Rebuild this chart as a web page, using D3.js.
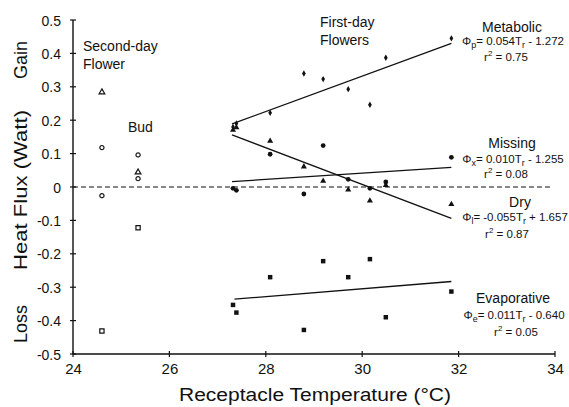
<!DOCTYPE html>
<html>
<head>
<meta charset="utf-8">
<script src="https://cdn.jsdelivr.net/npm/d3@7/dist/d3.min.js"></script>
<style>
  html, body { margin: 0; padding: 0; background: #fff; }
  svg { display: block; }
  text { font-family: "Liberation Sans", Arial, Helvetica, sans-serif; fill: #111; }
</style>
</head>
<body>
<svg id="chart" width="569" height="407"></svg>
<script>
// ---------- data ----------
const xTicks = [24, 26, 28, 30, 32, 34];
const yTicks = [0.5, 0.4, 0.3, 0.2, 0.1, 0, -0.1, -0.2, -0.3, -0.4, -0.5];
const yTickLabels = ["0.5", "0.4", "0.3", "0.2", "0.1", "0", "-0.1", "-0.2", "-0.3", "-0.4", "-0.5"];

// First-day flowers (receptacle temperature, °C)
const firstDayT   = [27.32, 27.39, 28.09, 28.79, 29.19, 29.71, 30.16, 30.49, 31.85];
const metabolic   = [0.180, 0.190, 0.222, 0.340, 0.323, 0.293, 0.246, 0.387, 0.445];
const missing     = [-0.004, -0.010, 0.098, -0.021, 0.124, 0.023, -0.004, 0.015, 0.089];
const dry         = [0.171, 0.178, 0.138, 0.061, 0.018, -0.008, -0.041, 0.005, -0.052];
const evaporative = [-0.353, -0.376, -0.270, -0.428, -0.222, -0.270, -0.216, -0.390, -0.313];

// Second-day flower and bud (open symbols)
const secondDayT = 24.6;
const secondDay = [
  { shape: "triangle", v: 0.284 },
  { shape: "circle", v: 0.118 },
  { shape: "circle", v: -0.026 },
  { shape: "square", v: -0.431 }
];
const budT = 25.35;
const bud = [
  { shape: "circle", v: 0.096 },
  { shape: "triangle", v: 0.044 },
  { shape: "circle", v: 0.025 },
  { shape: "square", v: -0.122 }
];

// Regression lines (endpoints)
const metabolicLine   = [[27.3, 0.189], [31.85, 0.430]];
const missingLine     = [[27.3, 0.016], [31.85, 0.059]];
const dryLine         = [[27.3, 0.156], [31.85, -0.094]];
const evaporativeLine = [[27.35, -0.336], [31.85, -0.283]];

// ---------- layout ----------
const svg = d3.select("#chart");
const mLeft = 73, mRight = 555, mTop = 20, mBottom = 354;
const x = d3.scaleLinear().domain([24, 34]).range([mLeft, mRight]);
const y = d3.scaleLinear().domain([-0.5, 0.5]).range([mBottom, mTop]);

// zero dashed line
svg.append("line")
  .attr("x1", x(24)).attr("x2", x(33.95))
  .attr("y1", y(0)).attr("y2", y(0))
  .attr("stroke", "#111").attr("stroke-width", 1.1)
  .attr("stroke-dasharray", "5,3");

// axes
const yAxis = svg.append("g").attr("transform", `translate(${mLeft},0)`)
  .call(d3.axisLeft(y).tickValues(yTicks).tickSize(0).tickFormat((d, i) => yTickLabels[i]));
yAxis.select(".domain").remove();
yAxis.selectAll("text").attr("x", -12).attr("dy", "0.36em")
  .style("font-size", "14px").style("font-family", "Liberation Sans, Arial, sans-serif").attr("fill", "#111");

const xAxis = svg.append("g").attr("transform", `translate(0,${mBottom})`)
  .call(d3.axisBottom(x).tickValues(xTicks).tickSize(0).tickFormat(d3.format("d")));
xAxis.select(".domain").remove();
xAxis.selectAll("text").attr("y", 9).attr("dy", "0.71em")
  .style("font-size", "15px").style("font-family", "Liberation Sans, Arial, sans-serif").attr("fill", "#111");

// axis lines + crossing ticks
svg.append("line").attr("x1", mLeft).attr("x2", mLeft).attr("y1", mTop).attr("y2", mBottom)
  .attr("stroke", "#111").attr("stroke-width", 1.4);
svg.append("line").attr("x1", mLeft).attr("x2", mRight).attr("y1", mBottom).attr("y2", mBottom)
  .attr("stroke", "#111").attr("stroke-width", 1.4);
svg.selectAll(".yt").data(yTicks).enter().append("line")
  .attr("x1", mLeft - 3).attr("x2", mLeft + 3)
  .attr("y1", d => y(d)).attr("y2", d => y(d))
  .attr("stroke", "#111").attr("stroke-width", 1.2);
svg.selectAll(".xt").data(xTicks).enter().append("line")
  .attr("x1", d => x(d)).attr("x2", d => x(d))
  .attr("y1", mBottom - 3).attr("y2", mBottom + 3)
  .attr("stroke", "#111").attr("stroke-width", 1.2);

// axis titles
svg.append("text").attr("x", 315).attr("y", 401).attr("text-anchor", "middle")
  .style("font-size", "18px").attr("textLength", 272).attr("lengthAdjust", "spacingAndGlyphs")
  .text("Receptacle Temperature (°C)");

const yTitle = (txt, cy, len) => svg.append("text")
  .attr("transform", `translate(27,${cy}) rotate(-90)`)
  .attr("text-anchor", "middle").style("font-size", "19px")
  .attr("textLength", len).attr("lengthAdjust", "spacingAndGlyphs")
  .text(txt);
yTitle("Gain", 60, 38);
yTitle("Heat Flux (Watt)", 190, 160);
yTitle("Loss", 324, 38);

// regression lines
const line = d3.line().x(d => x(d[0])).y(d => y(d[1]));
[metabolicLine, missingLine, dryLine, evaporativeLine].forEach(l => {
  svg.append("path").attr("d", line(l)).attr("fill", "none")
    .attr("stroke", "#111").attr("stroke-width", 1.3);
});

// symbols
const symType = { circle: d3.symbolCircle, triangle: d3.symbolTriangle, square: d3.symbolSquare, diamond: d3.symbolDiamond };
function plotFilled(vals, shape, size) {
  svg.append("g").selectAll("path").data(vals).enter().append("path")
    .attr("transform", (d, i) => `translate(${x(firstDayT[i])},${y(d)})`)
    .attr("d", d3.symbol().type(symType[shape]).size(size))
    .attr("fill", "#111");
}
plotFilled(metabolic, "diamond", 12);
plotFilled(missing, "circle", 18);
plotFilled(dry, "triangle", 16);
plotFilled(evaporative, "square", 20);

function plotOpen(T, pts) {
  svg.append("g").selectAll("path").data(pts).enter().append("path")
    .attr("transform", d => `translate(${x(T)},${y(d.v)})`)
    .attr("d", d => d3.symbol().type(symType[d.shape]).size(d.shape === "square" ? 18 : 14)())
    .attr("fill", "#fff").attr("stroke", "#111").attr("stroke-width", 1.2);
}
plotOpen(secondDayT, secondDay);
plotOpen(budT, bud);

// group labels
const label = (txt, xx, yy, anchor, size) => svg.append("text")
  .attr("x", xx).attr("y", yy).attr("text-anchor", anchor || "start")
  .style("font-size", (size || 14) + "px").text(txt);
label("Second-day", 83, 51);
label("Flower", 83, 69);
label("Bud", 128, 132);
label("First-day", 320, 27);
label("Flowers", 320, 45);

// series labels with equations
function eq(cx, yy, sub, rest) {
  const t = svg.append("text").attr("x", cx).attr("y", yy).attr("text-anchor", "middle")
    .style("font-size", "11.5px");
  t.append("tspan").text("Φ");
  t.append("tspan").attr("dy", 3).style("font-size", "9px").text(sub);
  t.append("tspan").attr("dy", -3).text(rest[0]);
  t.append("tspan").attr("dy", 3).style("font-size", "9px").text("r");
  t.append("tspan").attr("dy", -3).text(rest[1]);
}
function r2(cx, yy, val) {
  const t = svg.append("text").attr("x", cx).attr("y", yy).attr("text-anchor", "middle")
    .style("font-size", "11.5px");
  t.append("tspan").text("r");
  t.append("tspan").attr("dy", -5).style("font-size", "8px").text("2");
  t.append("tspan").attr("dy", 5).text(" = " + val);
}
label("Metabolic", 512, 32, "middle");
eq(513, 45, "p", ["= 0.054T", " - 1.272"]);
r2(506, 61, "0.75");

label("Missing", 512, 148, "middle");
eq(513, 163, "x", ["= 0.010T", " - 1.255"]);
r2(506, 178, "0.08");

label("Dry", 520, 207, "middle");
eq(515, 221, "l", ["= -0.055T", " + 1.657"]);
r2(507, 238, "0.87");

label("Evaporative", 513, 303, "middle");
eq(514, 319, "e", ["= 0.011T", " - 0.640"]);
r2(516, 336, "0.05");
</script>
</body>
</html>
